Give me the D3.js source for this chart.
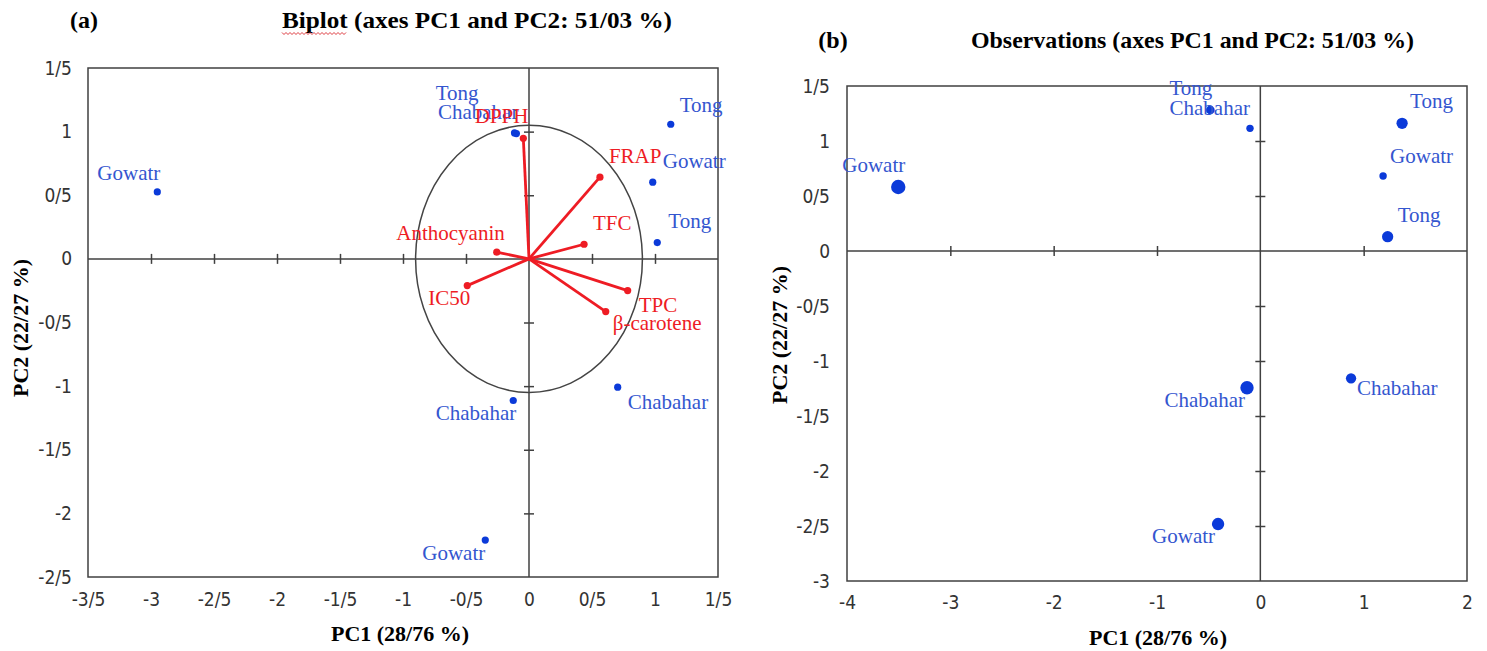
<!DOCTYPE html>
<html>
<head>
<meta charset="utf-8">
<script src="https://cdn.jsdelivr.net/npm/d3@7"></script>
<style>
  body { margin: 0; background: #fff; }
</style>
</head>
<body>
<svg id="chart" width="1487" height="651"></svg>
<script>
// variables (red arrows, panel a)
const varNames = ['DPPH', 'FRAP', 'TFC', 'Anthocyanin', 'IC50', 'TPC', 'β-carotene'];
const varPC1 = [-0.045, 0.563, 0.437, -0.256, -0.49, 0.783, 0.609];
const varPC2 = [0.948, 0.642, 0.115, 0.053, -0.21, -0.249, -0.414];

// observations in the biplot (panel a)
const biplotSites = ['Gowatr', 'Tong', 'Chabahar', 'Tong', 'Gowatr', 'Tong', 'Chabahar', 'Chabahar', 'Gowatr'];
const biplotPC1 = [-2.95, -0.115, -0.10, 1.125, 0.982, 1.018, -0.125, 0.704, -0.347];
const biplotPC2 = [0.526, 0.99, 0.985, 1.058, 0.603, 0.128, -1.113, -1.008, -2.21];

// observations (panel b), bubble weight
const obsSites = ['Gowatr', 'Tong', 'Chabahar', 'Tong', 'Gowatr', 'Tong', 'Chabahar', 'Chabahar', 'Gowatr'];
const obsPC1 = [-3.504, -0.484, -0.10, 1.372, 1.188, 1.232, -0.129, 0.878, -0.409];
const obsPC2 = [0.582, 1.282, 1.115, 1.161, 0.682, 0.13, -1.243, -1.157, -2.482];
const obsWeight = [49, 18, 13, 30, 13, 30, 42, 25, 36];

// correlation circle radii (as drawn)
const circleR = [0.9, 1.05];

// ticks
const xTicksA = [-3.5, -3, -2.5, -2, -1.5, -1, -0.5, 0, 0.5, 1, 1.5];
const yTicksA = [-2.5, -2, -1.5, -1, -0.5, 0, 0.5, 1, 1.5];
const xTicksB = [-4, -3, -2, -1, 0, 1, 2];
const yTicksB = [-3, -2.5, -2, -1.5, -1, -0.5, 0, 0.5, 1, 1.5];

// label placement [dx, dy, anchor]
const varLabelPos = [[5, -15, 'end'], [9, -14, 'start'], [9, -14, 'start'], [8, -12, 'end'],
    [3, 19, 'end'], [11, 21, 'start'], [7, 18, 'start']];
const biplotLabelPos = [[3, -12, 'end'], [-36, -33, 'end'], [2, -15, 'end'], [9, -12, 'start'],
    [10, -14, 'start'], [11, -15, 'start'], [3, 19, 'end'], [10, 22, 'start'], [0, 20, 'end']];
const obsLabelPos = [[7, -15, 'end'], [2, -15, 'end'], [0, -13, 'end'], [8, -15, 'start'],
    [7, -13, 'start'], [10, -15, 'start'], [-2, 19, 'end'], [6, 17, 'start'], [-3, 19, 'end']];

const serif = '"Liberation Serif", "Times New Roman", serif';
const tickFont = '"Liberation Sans Narrow", "DejaVu Sans Condensed", sans-serif';
const blueText = '#3456cf';
const blueDot = '#0b3ad9';
const red = '#ee1c24';
const frameColor = '#404040';

const fmt = d => String(d).replace('.', '/');

const svg = d3.select('#chart');

function drawPanel(cfg) {
    const g = svg.append('g');
    const x = d3.scaleLinear().domain(cfg.xDomain).range(cfg.xRange);
    const y = d3.scaleLinear().domain(cfg.yDomain).range(cfg.yRange);

    g.append('rect')
        .attr('x', cfg.xRange[0]).attr('y', cfg.yRange[1])
        .attr('width', cfg.xRange[1] - cfg.xRange[0])
        .attr('height', cfg.yRange[0] - cfg.yRange[1])
        .attr('fill', 'none').attr('stroke', frameColor).attr('stroke-width', 1.5);

    // tick labels on the frame
    const xAxisG = g.append('g')
        .attr('transform', `translate(0,${cfg.yRange[0]})`)
        .call(d3.axisBottom(x).tickValues(cfg.xTicks).tickSize(0).tickPadding(cfg.xPad).tickFormat(fmt));
    const yAxisG = g.append('g')
        .attr('transform', `translate(${cfg.xRange[0]},0)`)
        .call(d3.axisLeft(y).tickValues(cfg.yTicks).tickSize(0).tickPadding(cfg.yPad).tickFormat(fmt));
    [xAxisG, yAxisG].forEach(a => {
        a.select('.domain').remove();
        a.attr('font-family', tickFont).attr('font-size', 19).attr('color', '#333');
    });

    // zero axes with crossing ticks
    g.append('line')
        .attr('x1', cfg.xRange[0]).attr('x2', cfg.xRange[1])
        .attr('y1', y(0)).attr('y2', y(0))
        .attr('stroke', frameColor).attr('stroke-width', 1.5);
    g.append('line')
        .attr('x1', x(0)).attr('x2', x(0))
        .attr('y1', cfg.yRange[0]).attr('y2', cfg.yRange[1])
        .attr('stroke', frameColor).attr('stroke-width', 1.5);
    const inner = (t, dom) => t.filter(v => v !== 0 && v !== dom[0] && v !== dom[1]);
    const xz = g.append('g')
        .attr('transform', `translate(0,${y(0) - 5})`)
        .call(d3.axisBottom(x).tickValues(inner(cfg.xTicks, cfg.xDomain)).tickSize(10).tickFormat(''));
    const yz = g.append('g')
        .attr('transform', `translate(${x(0) + 5},0)`)
        .call(d3.axisLeft(y).tickValues(inner(cfg.yTicks, cfg.yDomain)).tickSize(10).tickFormat(''));
    [xz, yz].forEach(a => {
        a.select('.domain').remove();
        a.selectAll('line').attr('stroke', frameColor).attr('stroke-width', 1.5);
    });

    // titles
    svg.append('text')
        .attr('x', cfg.tagX).attr('y', cfg.titleY)
        .attr('text-anchor', 'middle')
        .attr('font-family', serif).attr('font-weight', 'bold').attr('font-size', 24)
        .text(cfg.tag);
    const title = svg.append('text')
        .attr('x', cfg.titleX).attr('y', cfg.titleY)
        .attr('font-family', serif).attr('font-weight', 'bold').attr('font-size', 24)
        .attr('textLength', cfg.titleW).attr('lengthAdjust', 'spacingAndGlyphs')
        .text(cfg.title);

    svg.append('text')
        .attr('x', cfg.xTitleX).attr('y', cfg.xTitleY)
        .attr('text-anchor', 'middle')
        .attr('font-family', serif).attr('font-weight', 'bold').attr('font-size', 22)
        .text('PC1 (28/76 %)');
    svg.append('text')
        .attr('transform', `translate(${cfg.yTitleX},${cfg.yTitleY}) rotate(-90)`)
        .attr('text-anchor', 'middle')
        .attr('font-family', serif).attr('font-weight', 'bold').attr('font-size', 22)
        .text('PC2 (22/27 %)');

    return { g, x, y, title };
}

// ---------- panel (a) ----------
const A = drawPanel({
    xDomain: [-3.5, 1.5], yDomain: [-2.5, 1.5],
    xRange: [88, 718], yRange: [577, 68],
    xTicks: xTicksA, yTicks: yTicksA, xPad: 16, yPad: 16,
    tag: '(a)', tagX: 84, titleX: 282, titleY: 28, titleW: 390,
    title: 'Biplot (axes PC1 and PC2: 51/03 %)',
    xTitleX: 400, xTitleY: 641, yTitleX: 28, yTitleY: 328
});

// red wavy underline under "Biplot"
{
    const node = A.title.node();
    const w = node.getSubStringLength(0, 6);
    const x0 = 282, yy = 33;
    const pts = d3.range(0, Math.floor(w / 2) + 1).map(i => [x0 + i * 2, yy + (i % 2 ? 1.5 : -0.5)]);
    svg.append('path')
        .attr('d', d3.line()(pts))
        .attr('fill', 'none').attr('stroke', '#d8262b').attr('stroke-width', 0.9);
}

// correlation circle
A.g.append('ellipse')
    .attr('cx', A.x(0)).attr('cy', A.y(0))
    .attr('rx', A.x(circleR[0]) - A.x(0))
    .attr('ry', A.y(0) - A.y(circleR[1]))
    .attr('fill', 'none').attr('stroke', '#444').attr('stroke-width', 1.5);

// observations (a)
const biplotData = biplotSites.map((s, i) => ({ s, x: biplotPC1[i], y: biplotPC2[i], p: biplotLabelPos[i] }));
A.g.selectAll('.obsA').data(biplotData).enter().append('circle')
    .attr('cx', d => A.x(d.x)).attr('cy', d => A.y(d.y))
    .attr('r', 3.6).attr('fill', blueDot);
A.g.selectAll('.obsAL').data(biplotData).enter().append('text')
    .attr('x', d => A.x(d.x) + d.p[0]).attr('y', d => A.y(d.y) + d.p[1])
    .attr('text-anchor', d => d.p[2])
    .attr('font-family', serif).attr('font-size', 21).attr('fill', blueText)
    .text(d => d.s);

// variable vectors
const varData = varNames.map((n, i) => ({ n, x: varPC1[i], y: varPC2[i], p: varLabelPos[i] }));
A.g.selectAll('.vec').data(varData).enter().append('line')
    .attr('x1', A.x(0)).attr('y1', A.y(0))
    .attr('x2', d => A.x(d.x)).attr('y2', d => A.y(d.y))
    .attr('stroke', red).attr('stroke-width', 2.8);
A.g.selectAll('.vecEnd').data(varData).enter().append('circle')
    .attr('cx', d => A.x(d.x)).attr('cy', d => A.y(d.y))
    .attr('r', 3.6).attr('fill', red);
A.g.selectAll('.vecL').data(varData).enter().append('text')
    .attr('x', d => A.x(d.x) + d.p[0]).attr('y', d => A.y(d.y) + d.p[1])
    .attr('text-anchor', d => d.p[2])
    .attr('font-family', serif).attr('font-size', 21).attr('fill', red)
    .text(d => d.n);

// ---------- panel (b) ----------
const B = drawPanel({
    xDomain: [-4, 2], yDomain: [-3, 1.5],
    xRange: [847, 1467], yRange: [581, 86],
    xTicks: xTicksB, yTicks: yTicksB, xPad: 15, yPad: 17,
    tag: '(b)', tagX: 833, titleX: 971, titleY: 48, titleW: 443,
    title: 'Observations (axes PC1 and PC2: 51/03 %)',
    xTitleX: 1158, xTitleY: 645, yTitleX: 787, yTitleY: 335
});

const rScale = d3.scaleSqrt().domain([0, d3.max(obsWeight)]).range([0, 7.2]);
const obsData = obsSites.map((s, i) => ({ s, x: obsPC1[i], y: obsPC2[i], w: obsWeight[i], p: obsLabelPos[i] }));
B.g.selectAll('.obsB').data(obsData).enter().append('circle')
    .attr('cx', d => B.x(d.x)).attr('cy', d => B.y(d.y))
    .attr('r', d => rScale(d.w)).attr('fill', blueDot);
B.g.selectAll('.obsBL').data(obsData).enter().append('text')
    .attr('x', d => B.x(d.x) + d.p[0]).attr('y', d => B.y(d.y) + d.p[1])
    .attr('text-anchor', d => d.p[2])
    .attr('font-family', serif).attr('font-size', 21).attr('fill', blueText)
    .text(d => d.s);
</script>
</body>
</html>
